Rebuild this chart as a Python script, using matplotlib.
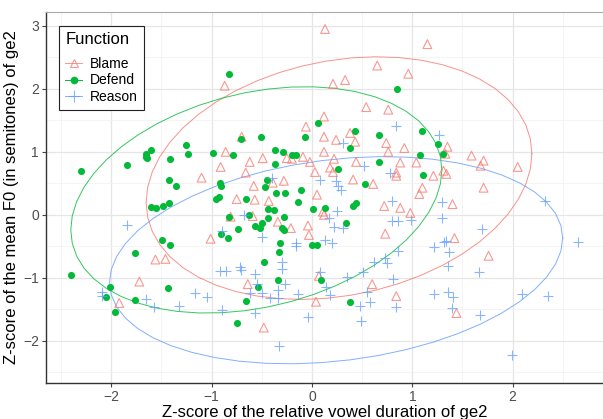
import numpy as np
import matplotlib
matplotlib.use("Agg")
import matplotlib.pyplot as plt
from matplotlib.lines import Line2D

plt.rcParams['font.family'] = ['Liberation Sans', 'DejaVu Sans']

# Blame (open triangles)
blame_x = [0.13, 1.15, 0.65, 0.96, 0.21, 0.33, -0.87, 0.54, 0.76, 0.12, -0.06, -0.70, 0.12, 0.24,
           0.38, 0.43, 0.74, 0.76, 0.92, 0.12, -0.86, -0.91, -0.62, -0.49, -0.25, -0.20, -0.09,
           -0.02, 0.22, 0.44, 0.88, 1.04, -0.66, -1.10, 0.03, 0.18, 0.21, 0.41, 0.84, 0.84, -0.58,
           -0.39, -0.28, 0.61, 1.10, 1.07, -0.75, -0.57, -0.43, 0.05, 0.72, 0.88, 1.35, 1.33, 1.59,
           1.71, 1.68, 2.05, 1.31, 1.34, 1.21, 1.71, 1.40, 0.98, -0.59, -0.34, -0.21, -0.04, -0.03,
           0.11, 0.12, 0.73, -0.81, -1.01, 1.42, 1.76, -1.56, -1.46, -1.72, -1.92, -0.64, 0.07,
           0.60, 0.84, 0.04, -0.48, 1.44]
blame_y = [2.95, 2.71, 2.37, 2.24, 2.08, 2.14, 2.05, 1.71, 1.67, 1.56, 1.40, 1.24, 1.24, 1.19,
           1.30, 1.16, 1.14, 1.00, 1.06, 1.00, 1.00, 0.76, 0.84, 0.90, 0.90, 0.89, 0.92, 0.84,
           0.89, 0.84, 0.83, 0.83, 0.67, 0.59, 0.68, 0.75, 0.68, 0.56, 0.67, 0.62, 0.46, 0.51,
           0.54, 0.49, 0.43, 0.33, 0.25, 0.24, 0.22, 0.32, 0.14, 0.11, 1.08, 0.97, 0.94, 0.86,
           0.78, 0.76, 0.70, 0.65, 0.62, 0.43, 0.17, 0.03, -0.02, -0.11, -0.21, -0.17, -0.32,
           0.05, 0.00, -0.30, -0.03, -0.38, -0.37, -0.65, -0.71, -0.70, -1.06, -1.40, -1.10,
           -0.97, -1.10, -1.29, -1.38, -1.79, -1.56]

# Defend (filled circles)
defend_x = [-0.83, 0.85, 0.06, -0.71, -0.51, -0.07, 0.43, 0.67, 1.10, 1.26, 1.31, 1.08, 1.11, 0.38,
            -0.79, -0.99, -1.26, -1.24, -1.41, -1.60, -1.65, -1.65, -1.64, -1.84, -2.30, -0.37,
            -0.29, -0.20, -0.16, -0.37, 0.67, 0.26, -1.42, -1.35, -0.92, -0.91, -0.45, -0.47, 0.53,
            -0.96, -0.93, -0.66, -0.36, -0.27, -0.11, -0.14, 0.41, 0.44, -1.60, -1.55, -1.48,
            -1.42, -0.44, -0.38, 0.01, 0.13, -0.83, -0.91, -0.84, -0.74, -0.44, -0.28, -0.57,
            -0.52, -0.50, -0.30, -0.28, 0.34, -0.32, 0.00, 0.05, -0.33, -0.48, -1.49, -1.41,
            -1.76, -2.40, -2.01, -2.05, -1.43, -1.76, -1.96, -0.34, 0.09, -0.54, -0.66, 0.38,
            -0.75, -0.63]
defend_y = [2.24, 2.00, 1.46, 1.21, 1.24, 1.24, 1.33, 1.27, 1.33, 1.13, 0.97, 0.95, 0.63, 1.06,
            0.95, 0.98, 1.11, 0.97, 0.89, 1.03, 0.97, 0.92, 0.90, 0.79, 0.70, 1.03, 1.00, 0.95,
            0.95, 0.81, 0.84, 0.73, 0.56, 0.46, 0.51, 0.46, 0.56, 0.44, 0.49, 0.25, 0.29, 0.25,
            0.35, 0.35, 0.40, 0.21, 0.14, 0.19, 0.13, 0.11, 0.14, 0.19, 0.10, 0.08, 0.10, 0.11,
            -0.03, -0.30, -0.37, -0.22, -0.05, -0.03, -0.17, -0.21, -0.13, -0.21, -0.24, -0.13,
            -0.44, -0.48, -0.48, -0.59, -0.75, -0.40, -0.48, -0.60, -0.95, -1.14, -1.30, -1.16,
            -1.35, -1.54, -1.03, -1.03, -1.14, -1.37, -1.38, -1.71, 0.00]

# Reason (crosses)
reason_x = [0.84, 0.31, 1.27, 0.52, 0.78, -0.40, 0.08, 0.24, 0.26, 0.29, 0.80, 1.30, 2.32, -0.68,
            0.25, 0.17, 0.22, 0.31, -1.84, -0.90, -0.50, -0.16, -0.16, 0.13, 0.20, 0.80, 0.86,
            0.99, 1.30, 1.69, 1.32, 1.34, 1.22, 1.37, 2.65, 0.86, 0.62, 0.73, 0.75, 1.36, -0.30,
            -0.30, -0.92, -0.86, -0.72, -0.71, -0.57, 0.51, 0.35, 0.08, 1.66, 0.81, -0.27, -0.55,
            0.14, -0.62, -0.50, -0.34, -0.34, -0.42, -0.14, 0.18, 0.55, 0.58, 0.48, 0.84, 1.22,
            1.36, 1.41, 2.09, 2.35, 1.40, 1.67, 1.99, -2.09, -2.09, -1.65, -1.57, -1.32, -1.17,
            -1.05, -0.90, -0.57, -0.04, 0.49, -0.33]
reason_y = [1.41, 1.14, 1.27, 0.78, 0.67, 0.59, 0.56, 0.54, 0.46, 0.40, 0.22, 0.21, 0.22, 0.00,
            0.06, -0.05, -0.19, -0.21, -0.16, -0.25, -0.35, -0.44, -0.49, -0.40, -0.44, -0.10,
            -0.10, -0.08, -0.05, -0.22, -0.43, -0.41, -0.51, -0.59, -0.43, -0.57, -0.75, -0.68,
            -0.76, -0.81, -0.75, -0.86, -0.89, -0.89, -0.83, -0.87, -0.94, -0.90, -0.98, -0.90,
            -0.90, -1.02, -1.10, -1.10, -1.14, -1.24, -1.24, -1.19, -1.32, -1.32, -1.25, -1.27,
            -1.22, -1.38, -1.44, -1.46, -1.25, -1.22, -1.30, -1.25, -1.29, -1.48, -1.59, -2.22,
            -1.22, -1.29, -1.33, -1.46, -1.44, -1.24, -1.30, -1.51, -1.56, -1.62, -1.68, -2.08]

groups = ['Blame', 'Defend', 'Reason']
colors = {'Blame': '#F8766D', 'Defend': '#00BA38', 'Reason': '#619CFF'}


def cov_trob(xy, nu=5, maxit=25, tol=0.01):
    # t-distribution robust covariance, as in MASS::cov.trob
    n, p = xy.shape
    loc = xy.mean(axis=0)
    w = np.ones(n)
    for _ in range(maxit):
        w0 = w
        X = xy - loc
        S = (X * (w / w.sum())[:, None]).T @ X
        Q = np.einsum('ij,jk,ik->i', X, np.linalg.inv(S), X)
        w = (nu + p) / (nu + Q)
        loc = (w[:, None] * xy).sum(axis=0) / w.sum()
        if np.all(np.abs(w - w0) < tol):
            break
    X = xy - loc
    cov = (X * w[:, None]).T @ X / n
    return loc, cov


def ellipse_path(x, y, level=0.95, segments=51):
    xy = np.column_stack([x, y])
    loc, cov = cov_trob(xy)
    dfd = len(x) - 1
    qf = dfd / 2 * ((1 - level) ** (-2 / dfd) - 1)
    radius = np.sqrt(2 * qf)
    t = np.linspace(0, 2 * np.pi, segments)
    circ = np.column_stack([np.cos(t), np.sin(t)])
    chol = np.linalg.cholesky(cov).T
    pts = loc + radius * circ @ chol
    return pts[:, 0], pts[:, 1]


fig = plt.figure(figsize=(6.03, 4.19), dpi=100)
ax = fig.add_axes([46 / 603, 36 / 419, 557 / 603, 371 / 419])

data = {'Blame': (blame_x, blame_y), 'Defend': (defend_x, defend_y), 'Reason': (reason_x, reason_y)}

ax.scatter(blame_x, blame_y, marker='^', s=40, facecolors='none', edgecolors=colors['Blame'],
           linewidths=0.8, alpha=0.75, zorder=3)
ax.scatter(defend_x, defend_y, marker='o', s=26, color=colors['Defend'], linewidths=0, zorder=3)
ax.scatter(reason_x, reason_y, marker='+', s=60, color=colors['Reason'], linewidths=0.8,
           alpha=0.75, zorder=3)

for g in groups:
    ex, ey = ellipse_path(*data[g])
    ax.plot(ex, ey, color=colors[g], linewidth=0.7, alpha=0.8, zorder=2)

ax.set_xlim(-2.65, 2.90)
ax.set_ylim(-2.67, 3.22)
ax.set_xticks([-2, -1, 0, 1, 2])
ax.set_yticks([-2, -1, 0, 1, 2, 3])
ax.set_xticks(np.arange(-2.5, 3.0, 1.0), minor=True)
ax.set_yticks(np.arange(-2.5, 3.0, 1.0), minor=True)
ax.grid(which='major', color='#e6e6e6', linewidth=0.9, zorder=0)
ax.grid(which='minor', color='#f2f2f2', linewidth=0.6, zorder=0)
ax.set_axisbelow(True)
ax.tick_params(which='major', length=3, width=0.8, color='#444444', labelsize=10,
               labelcolor='#4d4d4d', pad=2)
ax.tick_params(which='minor', length=0)
for side in ['left', 'bottom']:
    ax.spines[side].set_color('#333333')
    ax.spines[side].set_linewidth(1.0)
ax.spines['top'].set_color('#aaaaaa')
ax.spines['right'].set_visible(False)

ax.set_xlabel('Z-score of the relative vowel duration of ge2', fontsize=12, labelpad=1)
ax.set_ylabel('Z-score of the mean F0 (in semitones) of ge2', fontsize=12, labelpad=3)

handles = [
    Line2D([], [], color=colors['Blame'], marker='^', markerfacecolor='none', markersize=6,
           markeredgewidth=0.8, linewidth=0.7, alpha=0.75),
    Line2D([], [], color=colors['Defend'], marker='o', markersize=4.5, linewidth=0.7),
    Line2D([], [], color=colors['Reason'], marker='+', markersize=8, markeredgewidth=0.8,
           linewidth=0.7, alpha=0.75),
]
leg = ax.legend(handles, groups, title='Function', loc='upper left',
                bbox_to_anchor=(59 / 603, 1 - 26 / 419), bbox_transform=fig.transFigure,
                borderaxespad=0, fontsize=10, title_fontsize=12, alignment='left',
                handlelength=1.2, handletextpad=0.55, labelspacing=0.18, borderpad=0.45,
                fancybox=False, edgecolor='#222222', framealpha=1)
leg.get_frame().set_linewidth(0.8)
leg._legend_box.sep = 7

fig.savefig('out.png', dpi=100)
